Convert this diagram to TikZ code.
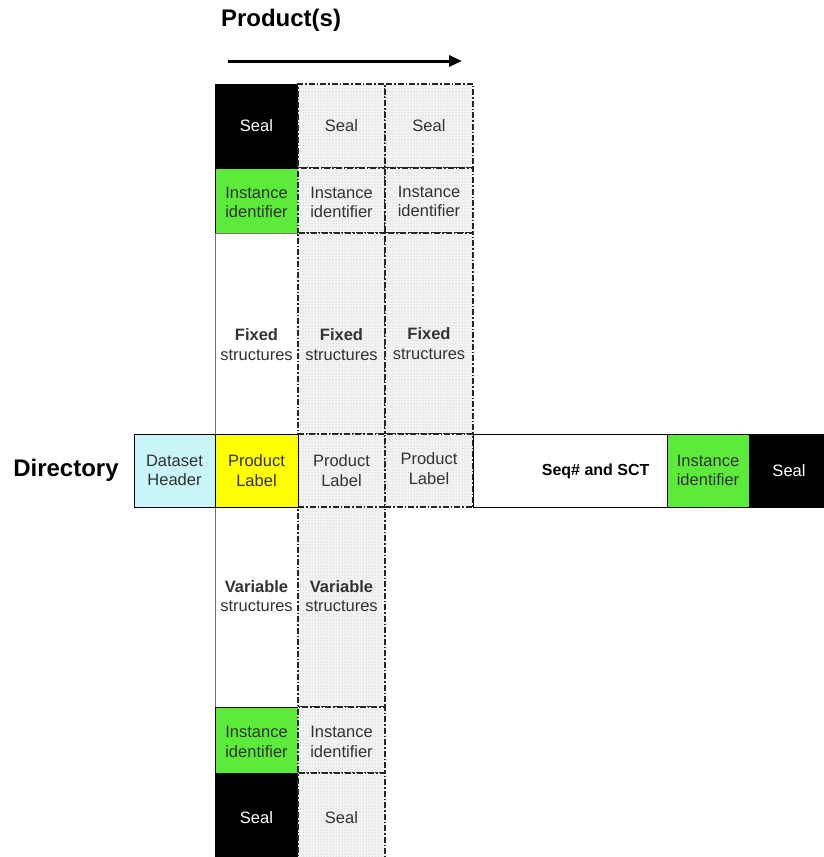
\documentclass[tikz,border=0pt]{standalone}
\usepackage{fontspec}
\setmainfont{Liberation Sans}
\usetikzlibrary{patterns,arrows.meta}
\definecolor{cellgreen}{HTML}{5CEB3A}
\definecolor{cellcyan}{HTML}{C8F4FA}
\definecolor{cellyellow}{HTML}{FFFF00}
\definecolor{inkgray}{HTML}{333333}
\begin{document}
\begin{tikzpicture}[x=1pt,y=-1pt,
  cell/.style={draw=black!55, line width=0.8pt, inner sep=0pt, outer sep=0pt, anchor=north west},
  solidcell/.style={cell, draw=black, line width=0.9pt},
  sealcell/.style={solidcell, fill=black},
  greencell/.style={solidcell, fill=cellgreen},
  dotcell/.style={cell, draw=black!85, line width=1.2pt,
    dash pattern=on 6pt off 2pt on 1.5pt off 2pt,
    preaction={fill=gray!9}, pattern=dots, pattern color=gray!60},
  txt/.style={font=\fontsize{16.5}{19.5}\selectfont, align=center, text=inkgray},
  bold/.style={font=\bfseries\fontsize{24}{28}\selectfont},
]
\useasboundingbox (0,0) rectangle (824,857);

% title and direction arrow
\node[bold] (title) at (281,20) {Product(s)};
\coordinate (a0) at (228,61);
\coordinate (a1) at (462,61);
\draw[line width=3pt, -{Triangle[length=13pt,width=11pt]}] (a0) -- (a1);

\node[bold] (dir) at (66,470) {Directory};

% first product column
\node[sealcell, minimum width=83pt, minimum height=84pt] (s1) at (215,84) {};
\node[greencell, minimum width=83pt, minimum height=65pt] (i1) at (215,168) {};
\node[cell, fill=white, minimum width=83pt, minimum height=201pt] (f1) at (215,233) {};
\node[cell, fill=white, minimum width=83pt, minimum height=200pt] (v1) at (215,507) {};
\node[greencell, minimum width=83pt, minimum height=66pt] (j1) at (215,707) {};
\node[sealcell, minimum width=83pt, minimum height=86pt] (t1) at (215,773) {};

% second product column
\node[dotcell, minimum width=87pt, minimum height=84pt] (s2) at (298,84) {};
\node[dotcell, minimum width=87pt, minimum height=65pt] (i2) at (298,168) {};
\node[dotcell, minimum width=87pt, minimum height=201pt] (f2) at (298,233) {};
\node[dotcell, minimum width=87pt, minimum height=73pt] (p2) at (298,434) {};
\node[dotcell, minimum width=87pt, minimum height=200pt] (v2) at (298,507) {};
\node[dotcell, minimum width=87pt, minimum height=66pt] (j2) at (298,707) {};
\node[dotcell, minimum width=87pt, minimum height=86pt] (t2) at (298,773) {};

% third product column
\node[dotcell, minimum width=88pt, minimum height=84pt] (s3) at (385,84) {};
\node[dotcell, minimum width=88pt, minimum height=65pt] (i3) at (385,168) {};
\node[dotcell, minimum width=88pt, minimum height=201pt] (f3) at (385,233) {};
\node[dotcell, minimum width=88pt, minimum height=73pt] (p3) at (385,434) {};

% directory row
\node[solidcell, fill=cellcyan, minimum width=81pt, minimum height=73pt] (dh) at (134,434) {};
\node[solidcell, fill=cellyellow, minimum width=83pt, minimum height=73pt] (p1) at (215,434) {};
\node[solidcell, fill=white, minimum width=194pt, minimum height=73pt] (sq) at (473,434) {};
\node[greencell, minimum width=82pt, minimum height=73pt] (di) at (667,434) {};
\node[sealcell, minimum width=80pt, minimum height=73pt] (ds) at (749,434) {};

% labels
\node[txt, text=white] (ls1) at (s1.center) {Seal};
\node[txt] (ls2) at (s2.center) {Seal};
\node[txt] (ls3) at (s3.center) {Seal};
\node[txt] (li1) at ([yshift=-2pt]i1.center) {Instance\\identifier};
\node[txt] (li2) at ([yshift=-2pt]i2.center) {Instance\\identifier};
\node[txt] (li3) at ([yshift=-1pt]i3.center) {Instance\\identifier};
\node[txt] (lf1) at ([yshift=-11pt]f1.center) {\textbf{Fixed}\\structures};
\node[txt] (lf2) at ([yshift=-11pt]f2.center) {\textbf{Fixed}\\structures};
\node[txt] (lf3) at ([yshift=-10pt]f3.center) {\textbf{Fixed}\\structures};
\node[txt] (ldh) at (dh.center) {Dataset\\Header};
\node[txt] (lp1) at (p1.center) {Product\\Label};
\node[txt] (lp2) at (p2.center) {Product\\Label};
\node[txt] (lp3) at ([yshift=2pt]p3.center) {Product\\Label};
\node[txt, font=\bfseries\fontsize{16}{19.5}\selectfont, text=black, anchor=east] (lsq) at ([xshift=-14pt,yshift=-1pt]sq.east) {Seq\# and SCT};
\node[txt] (ldi) at (di.center) {Instance\\identifier};
\node[txt, text=white] (lds) at (ds.center) {Seal};
\node[txt] (lv1) at ([yshift=11pt]v1.center) {\textbf{Variable}\\structures};
\node[txt] (lv2) at ([yshift=11pt]v2.center) {\textbf{Variable}\\structures};
\node[txt] (lj1) at ([yshift=-2pt]j1.center) {Instance\\identifier};
\node[txt] (lj2) at ([yshift=-2pt]j2.center) {Instance\\identifier};
\node[txt, text=white] (lt1) at ([yshift=-2pt]t1.center) {Seal};
\node[txt] (lt2) at ([yshift=-2pt]t2.center) {Seal};
\end{tikzpicture}
\end{document}
